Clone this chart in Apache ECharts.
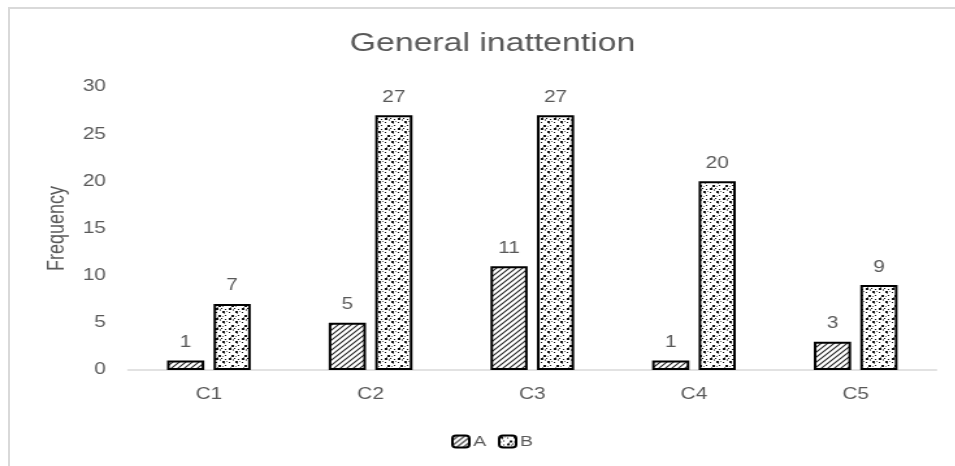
<!DOCTYPE html>
<html>
<head>
<meta charset="utf-8">
<script src="https://cdn.jsdelivr.net/npm/echarts@6/dist/echarts.min.js"></script>
<style>
  html, body { margin: 0; padding: 0; background: #fff; overflow: hidden; }
  #frame { position: absolute; left: 8px; top: 7px; width: 960px; height: 480px; border-top: 2px solid #d9d9d9; border-left: 2px solid #d9d9d9; box-sizing: border-box; }
  /* the chart is laid out narrower and widened, giving the broad lettering */
  #chart { width: 735px; height: 466px; position: absolute; left: 0; top: 0; transform: scaleX(1.3); transform-origin: 0 0; }
</style>
</head>
<body>
<div id="frame"></div>
<div id="chart"></div>
<script>
const categories = ['C1', 'C2', 'C3', 'C4', 'C5'];
const seriesA = [1, 5, 11, 1, 3];
const seriesB = [7, 27, 27, 20, 9];
const yTicks = { min: 0, max: 30, interval: 5 };

const FONT = 'Liberation Sans, Arial, sans-serif';
const GREY = '#595959';

// Diagonal hatch fill
function hatchPattern() {
  const c = document.createElement('canvas');
  c.width = 5; c.height = 5;
  const g = c.getContext('2d');
  g.fillStyle = '#fff'; g.fillRect(0, 0, 5, 5);
  g.strokeStyle = '#222'; g.lineWidth = 1.1;
  g.beginPath();
  g.moveTo(0, 5); g.lineTo(5, 0);
  g.moveTo(-2.5, 2.5); g.lineTo(2.5, -2.5);
  g.moveTo(2.5, 7.5); g.lineTo(7.5, 2.5);
  g.stroke();
  return c;
}

// Stippled dot fill
function dotPattern() {
  const c = document.createElement('canvas');
  c.width = 10; c.height = 10;
  const g = c.getContext('2d');
  g.fillStyle = '#fff'; g.fillRect(0, 0, 10, 10);
  const black = [[1,1,2],[6,2,1],[8,5,2],[3,5,1],[0,8,1],[6,8,2],[3,9,1]];
  const grey = [[9,0,1],[2,3,1],[7,7,1],[4,1,1],[1,6,1],[9,9,1]];
  g.fillStyle = '#111';
  black.forEach(([x, y, s]) => g.fillRect(x, y, s, s));
  g.fillStyle = '#777';
  grey.forEach(([x, y, s]) => g.fillRect(x, y, s, s));
  return c;
}

const chart = echarts.init(document.getElementById('chart'), null, { renderer: 'canvas' });
const labelStyle = { show: true, position: 'top', distance: 10, color: GREY, fontSize: 16, fontFamily: FONT };

chart.setOption({
  animation: false,
  title: {
    text: 'General inattention',
    left: 264, top: 26,
    textStyle: { color: GREY, fontSize: 26, fontWeight: 'normal', fontFamily: FONT }
  },
  legend: {
    left: 342, top: 429,
    itemWidth: 13, itemHeight: 12, itemGap: 9,
    textStyle: { color: GREY, fontSize: 15, fontFamily: FONT, padding: [0, 0, 0, -2] },
    data: ['A', 'B']
  },
  grid: { left: 98.5, right: 14.6, top: 87, bottom: 96, containLabel: false },
  xAxis: {
    type: 'category', data: categories,
    axisLine: { lineStyle: { color: '#d9d9d9', width: 1.5 } },
    axisTick: { show: false },
    axisLabel: { color: GREY, fontSize: 16, margin: 17, fontFamily: FONT }
  },
  yAxis: {
    type: 'value', min: yTicks.min, max: yTicks.max, interval: yTicks.interval,
    name: 'Frequency', nameLocation: 'middle', nameGap: 43, nameRotate: 90,
    nameTextStyle: { color: GREY, fontSize: 18, fontFamily: FONT },
    axisLine: { show: false }, axisTick: { show: false },
    splitLine: { show: false },
    axisLabel: { color: GREY, fontSize: 16, margin: 17, fontFamily: FONT }
  },
  series: [
    {
      name: 'A', type: 'bar', data: seriesA,
      barWidth: '23%', barGap: '25%',
      itemStyle: { color: { image: hatchPattern(), repeat: 'repeat' }, borderColor: '#000', borderWidth: 2 },
      label: labelStyle
    },
    {
      name: 'B', type: 'bar', data: seriesB,
      barWidth: '23%', barGap: '25%',
      itemStyle: { color: { image: dotPattern(), repeat: 'repeat' }, borderColor: '#000', borderWidth: 2 },
      label: labelStyle
    }
  ]
});
</script>
</body>
</html>
